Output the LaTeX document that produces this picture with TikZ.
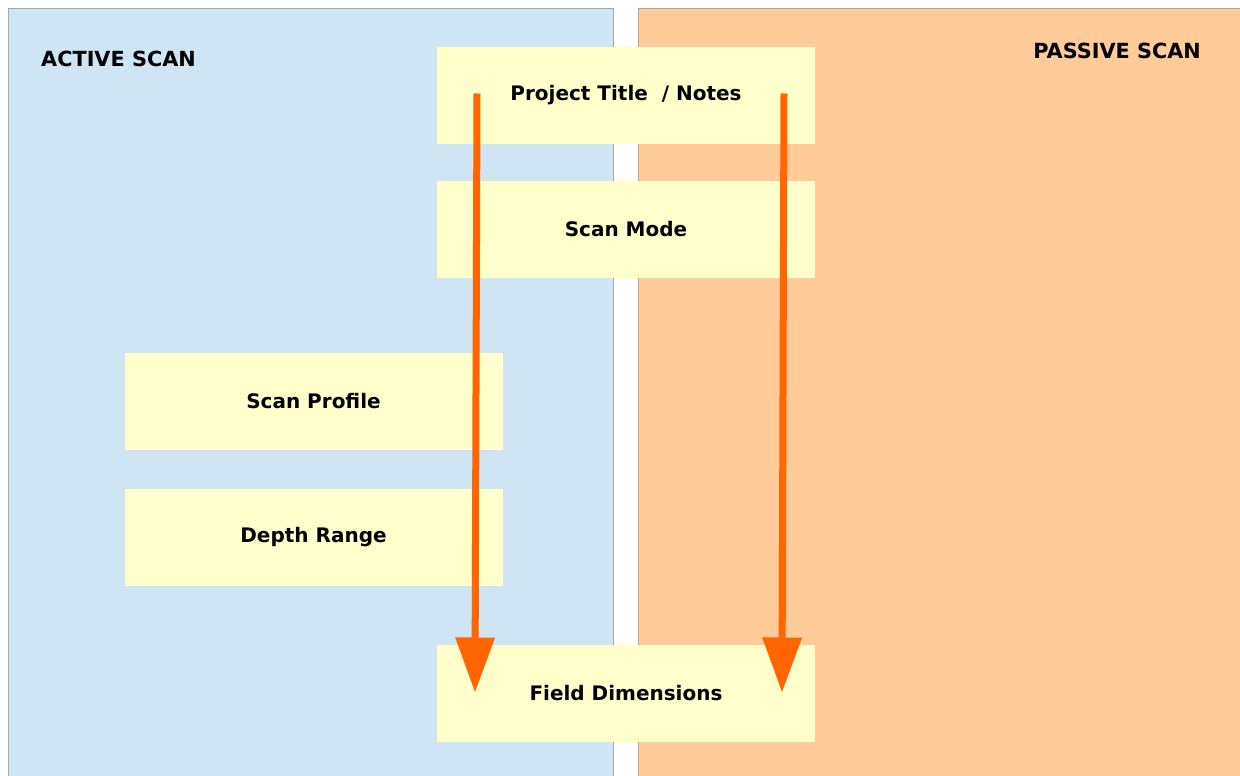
\documentclass[tikz,border=0pt]{standalone}
\usepackage{fontspec}
\setmainfont{DejaVu Sans}
\usetikzlibrary{arrows.meta,calc}
\definecolor{activebg}{HTML}{CFE5F3}
\definecolor{passivebg}{HTML}{FFCB99}
\definecolor{boxbg}{HTML}{FFFFCC}
\definecolor{arrowc}{HTML}{FF6600}
\definecolor{edge}{HTML}{A8A8A8}
\tikzset{
  panel/.style={fill=#1, draw=edge, line width=1pt},
  stepbox/.style={fill=boxbg, draw=none, minimum width=378pt, minimum height=97pt, inner sep=0pt, font=\bfseries\fontsize{20}{22}\selectfont},
  lbl/.style={font=\bfseries\fontsize{20.8}{23}\selectfont, inner sep=0pt},
  flow/.style={draw=arrowc, line width=7pt, -{Triangle[width=38pt,length=55pt]}, shorten >=0pt}
}
\begin{document}
\begin{tikzpicture}[x=1pt,y=-1pt]
\useasboundingbox (0,0) rectangle (1240,776);
\fill[white] (0,0) rectangle (1240,776);
% panels
\path[panel=activebg] (8,780) -- (8,9) -- (613,9) -- (613,780);
\path[panel=passivebg] (638,780) -- (638,9) -- (1245,9) -- (1245,780);
\node[lbl, anchor=west] (activelbl) at (41,59) {ACTIVE SCAN};
\node[lbl, anchor=east] (passivelbl) at (1201,51) {PASSIVE SCAN};
% boxes
\node[stepbox] (title) at (626,95.5) {Project Title~ / Notes};
\node[stepbox] (mode) at (626,229) {Scan Mode};
\node[stepbox] (profile) at (313.5,401.5) {Scan Profile};
\node[stepbox] (depth) at (313.5,537) {Depth Range};
\node[stepbox] (field) at (626,693.5) {Field Dimensions};
% arrows
\coordinate (la) at ($(title.center)+(-149,-2)$);
\coordinate (lb) at ($(field.center)+(-151,-1)$);
\coordinate (ra) at ($(title.center)+(158,-2)$);
\coordinate (rb) at ($(field.center)+(156,-1)$);
\draw[flow] (la) -- (lb);
\draw[flow] (ra) -- (rb);
\end{tikzpicture}
\end{document}
